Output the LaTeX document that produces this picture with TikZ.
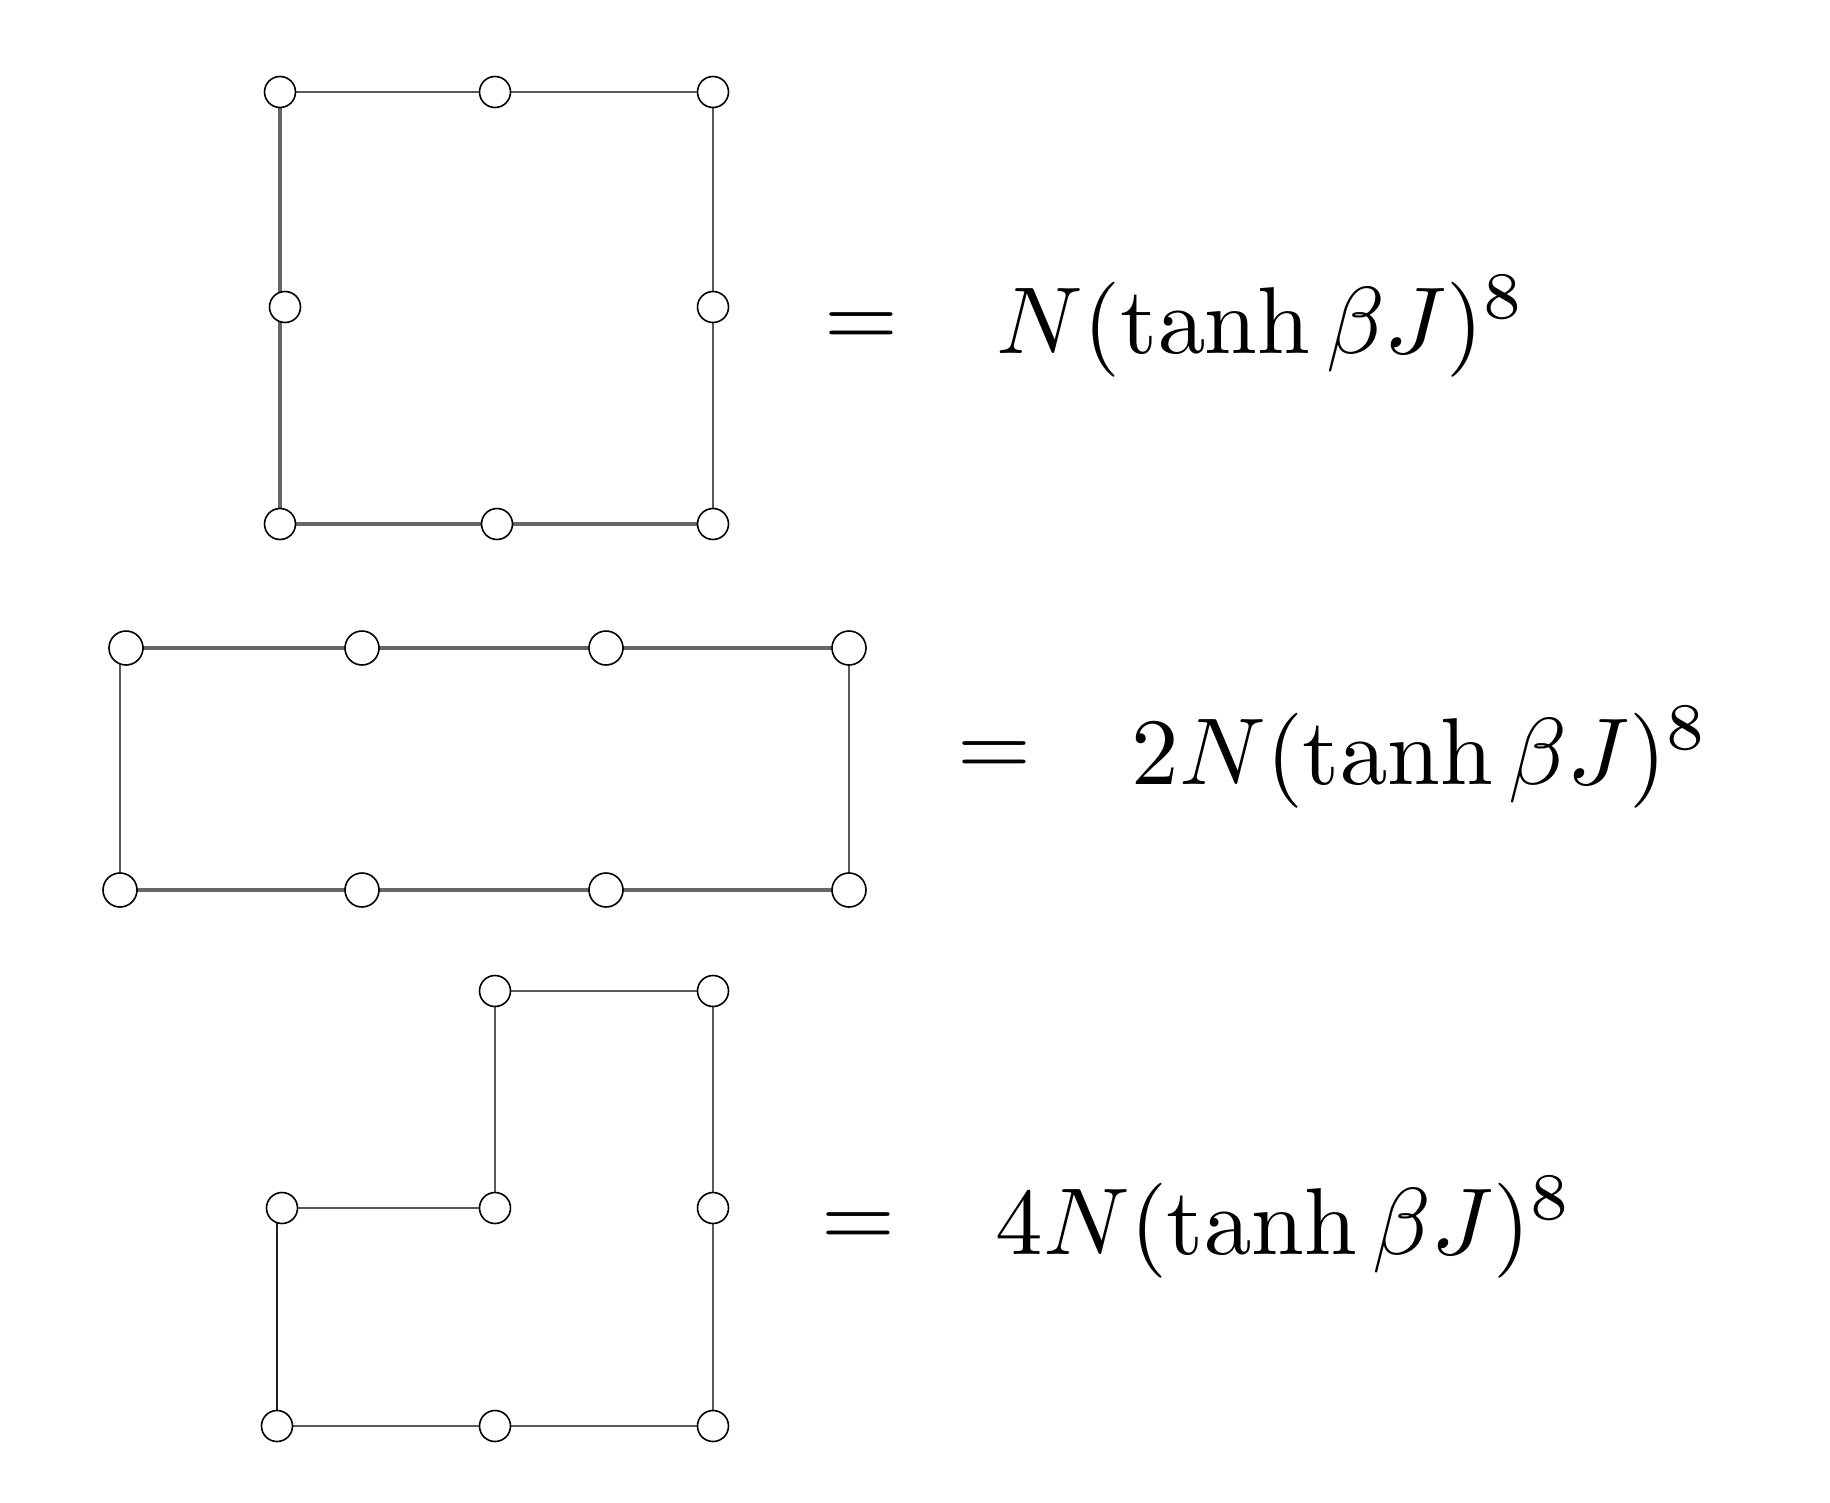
\documentclass[tikz,border=0pt]{standalone}
\usetikzlibrary{backgrounds}
\begin{document}
\begin{tikzpicture}[x=0.5pt,y=-0.5pt,
  site/.style={circle,draw=black,fill=white,line width=0.8pt,inner sep=0pt,minimum size=15.5pt},
  bigsite/.style={site,minimum size=17pt},
  thinbond/.style={draw=black!65,line width=1.1pt},
  thickbond/.style={draw=black!60,line width=1.6pt},
  darkbond/.style={draw=black!88,line width=1.1pt},
  eq/.style={inner sep=0pt,scale=4.75},
  formula/.style={inner sep=0pt,scale=4.75,anchor=base west}]
\useasboundingbox (0,0) rectangle (1830,1503);
% --- square ---
\node[site] (a1) at (280,92) {};
\node[site] (a2) at (495,92) {};
\node[site] (a3) at (713,92) {};
\node[site] (a4) at (285,307) {};
\node[site] (a5) at (713,307) {};
\node[site] (a6) at (280,524) {};
\node[site] (a7) at (497,524) {};
\node[site] (a8) at (713,524) {};
% --- rectangle ---
\node[bigsite] (b1) at (126,648) {};
\node[bigsite] (b2) at (362,648) {};
\node[bigsite] (b3) at (606,648) {};
\node[bigsite] (b4) at (849,648) {};
\node[bigsite] (b5) at (120,890) {};
\node[bigsite] (b6) at (362,890) {};
\node[bigsite] (b7) at (606,890) {};
\node[bigsite] (b8) at (849,890) {};
% --- L shape ---
\node[site] (c1) at (495,991) {};
\node[site] (c2) at (713,991) {};
\node[site] (c3) at (282,1208) {};
\node[site] (c4) at (495,1208) {};
\node[site] (c5) at (713,1208) {};
\node[site] (c6) at (277,1426) {};
\node[site] (c7) at (495,1426) {};
\node[site] (c8) at (713,1426) {};
\begin{pgfonlayer}{background}
\path[thinbond] (a1.center) -- (a2.center) -- (a3.center) -- (a8.center);
\path[thickbond] (a1.center) -- (a6.center) -- (a7.center) -- (a8.center);
\path[thickbond] (b1.center) -- (b2.center) -- (b3.center) -- (b4.center);
\path[thickbond] (b5.center) -- (b6.center) -- (b7.center) -- (b8.center);
\path[thinbond] (b5.center) -- (b5.center |- b1.center);
\path[thinbond] (b4.center) -- (b8.center);
\path[thinbond] (c4.center) -- (c1.center) -- (c2.center) -- (c8.center) -- (c7.center) -- (c6.center);
\path[darkbond] (c6.center) -- (c6.center |- c3.center);
\path[thinbond] (c3.center) -- (c4.center);
\end{pgfonlayer}
% --- equations ---
\node[eq] (e1) at (861,330) {$=$};
\node[formula] (f1) at (995,353) {$N(\tanh\beta J)^8$};
\node[eq] (e2) at (994,759) {$=$};
\node[formula] (f2) at (1130,784) {$2N(\tanh\beta J)^8$};
\node[eq] (e3) at (858,1230) {$=$};
\node[formula] (f3) at (994,1254) {$4N(\tanh\beta J)^8$};
\end{tikzpicture}
\end{document}
